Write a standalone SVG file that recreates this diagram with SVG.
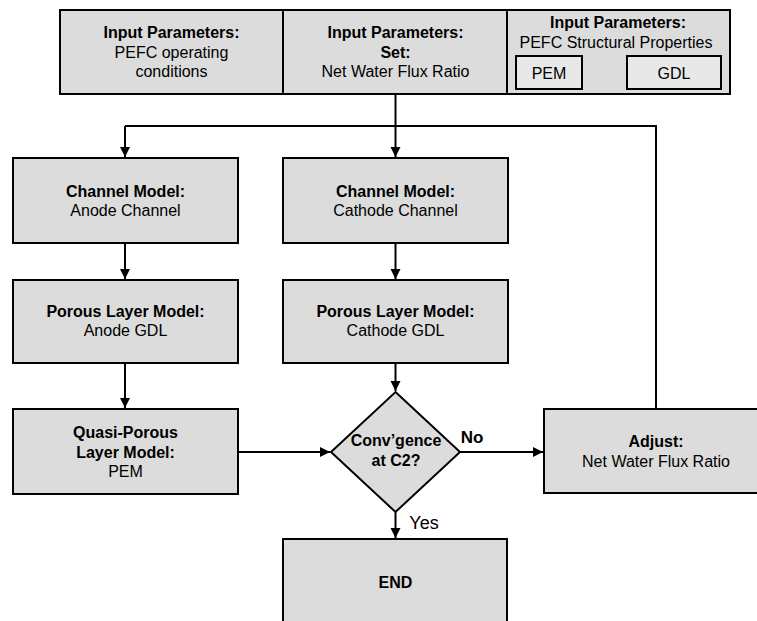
<svg xmlns="http://www.w3.org/2000/svg" width="757" height="621" viewBox="0 0 757 621">
<style>
.box{fill:#dcdcdc;stroke:#000;stroke-width:2}
.sub{fill:#e8e8e8;stroke:#000;stroke-width:2}
.ln{fill:none;stroke:#000;stroke-width:2}
text{font-family:"Liberation Sans",Arial,sans-serif;font-size:16px;fill:#000;text-anchor:middle}
.b{font-weight:bold}
</style>
<defs>
<marker id="ah" markerUnits="userSpaceOnUse" markerWidth="12" markerHeight="12" refX="10" refY="5" orient="auto">
<path d="M0,0 L10,5 L0,10 Z" fill="#000"/>
</marker>
</defs>
<rect width="757" height="621" fill="#fff"/>
<g id="connectors">
<path class="ln" d="M395.5,94 V126"/>
<path class="ln" d="M125,126 H656 V409"/>
<path class="ln" d="M125,126 V157" marker-end="url(#ah)"/>
<path class="ln" d="M395.5,126 V157" marker-end="url(#ah)"/>
<path class="ln" d="M125,243 V279" marker-end="url(#ah)"/>
<path class="ln" d="M395.5,243 V279" marker-end="url(#ah)"/>
<path class="ln" d="M125,363 V408" marker-end="url(#ah)"/>
<path class="ln" d="M395.5,363 V391" marker-end="url(#ah)"/>
<path class="ln" d="M238,452 H330" marker-end="url(#ah)"/>
<path class="ln" d="M460,452 H543" marker-end="url(#ah)"/>
<path class="ln" d="M395.5,512 V538" marker-end="url(#ah)"/>
<text x="472" y="443" class="b" style="font-size:17px">No</text>
<text x="424" y="529" style="font-size:18px">Yes</text>
</g>
<g id="input-operating">
<rect class="box" x="60" y="10" width="223" height="84"/>
<text x="171.5" y="38" class="b">Input Parameters:</text>
<text x="171.5" y="58">PEFC operating</text>
<text x="171.5" y="77">conditions</text>
</g>
<g id="input-set">
<rect class="box" x="283" y="10" width="224" height="84"/>
<text x="395.5" y="38" class="b">Input Parameters:</text>
<text x="395.5" y="58" class="b">Set:</text>
<text x="395.5" y="77">Net Water Flux Ratio</text>
</g>
<g id="input-structural">
<rect class="box" x="507" y="10" width="223" height="84"/>
<text x="618" y="28" class="b">Input Parameters:</text>
<text x="616" y="48">PEFC Structural Properties</text>
<g id="pem-sub">
<rect class="sub" x="516" y="56" width="66" height="33"/>
<text x="549" y="79">PEM</text>
</g>
<g id="gdl-sub">
<rect class="sub" x="627" y="56" width="94" height="33"/>
<text x="674" y="79">GDL</text>
</g>
</g>
<g id="anode-channel">
<rect class="box" x="13" y="158" width="225" height="85"/>
<text x="125.5" y="197" class="b">Channel Model:</text>
<text x="125.5" y="216">Anode Channel</text>
</g>
<g id="cathode-channel">
<rect class="box" x="283" y="158" width="225" height="85"/>
<text x="395.5" y="197" class="b">Channel Model:</text>
<text x="395.5" y="216">Cathode Channel</text>
</g>
<g id="anode-gdl">
<rect class="box" x="13" y="280" width="225" height="83"/>
<text x="125.5" y="317" class="b">Porous Layer Model:</text>
<text x="125.5" y="336">Anode GDL</text>
</g>
<g id="cathode-gdl">
<rect class="box" x="283" y="280" width="225" height="83"/>
<text x="395.5" y="317" class="b">Porous Layer Model:</text>
<text x="395.5" y="336">Cathode GDL</text>
</g>
<g id="pem">
<rect class="box" x="13" y="409" width="225" height="85"/>
<text x="125.5" y="438" class="b">Quasi-Porous</text>
<text x="125.5" y="458" class="b">Layer Model:</text>
<text x="125.5" y="477">PEM</text>
</g>
<g id="convergence">
<polygon class="box" points="395.5,392 460,452 395.5,512 331,452"/>
<text x="396" y="446" class="b">Conv’gence</text>
<text x="396" y="466" class="b">at C2?</text>
</g>
<g id="adjust">
<rect class="box" x="544" y="409" width="224" height="84"/>
<text x="656" y="447" class="b">Adjust:</text>
<text x="656" y="467">Net Water Flux Ratio</text>
</g>
<g id="end">
<rect class="box" x="283" y="539" width="224" height="85"/>
<text x="395.5" y="588" class="b">END</text>
</g>
</svg>
